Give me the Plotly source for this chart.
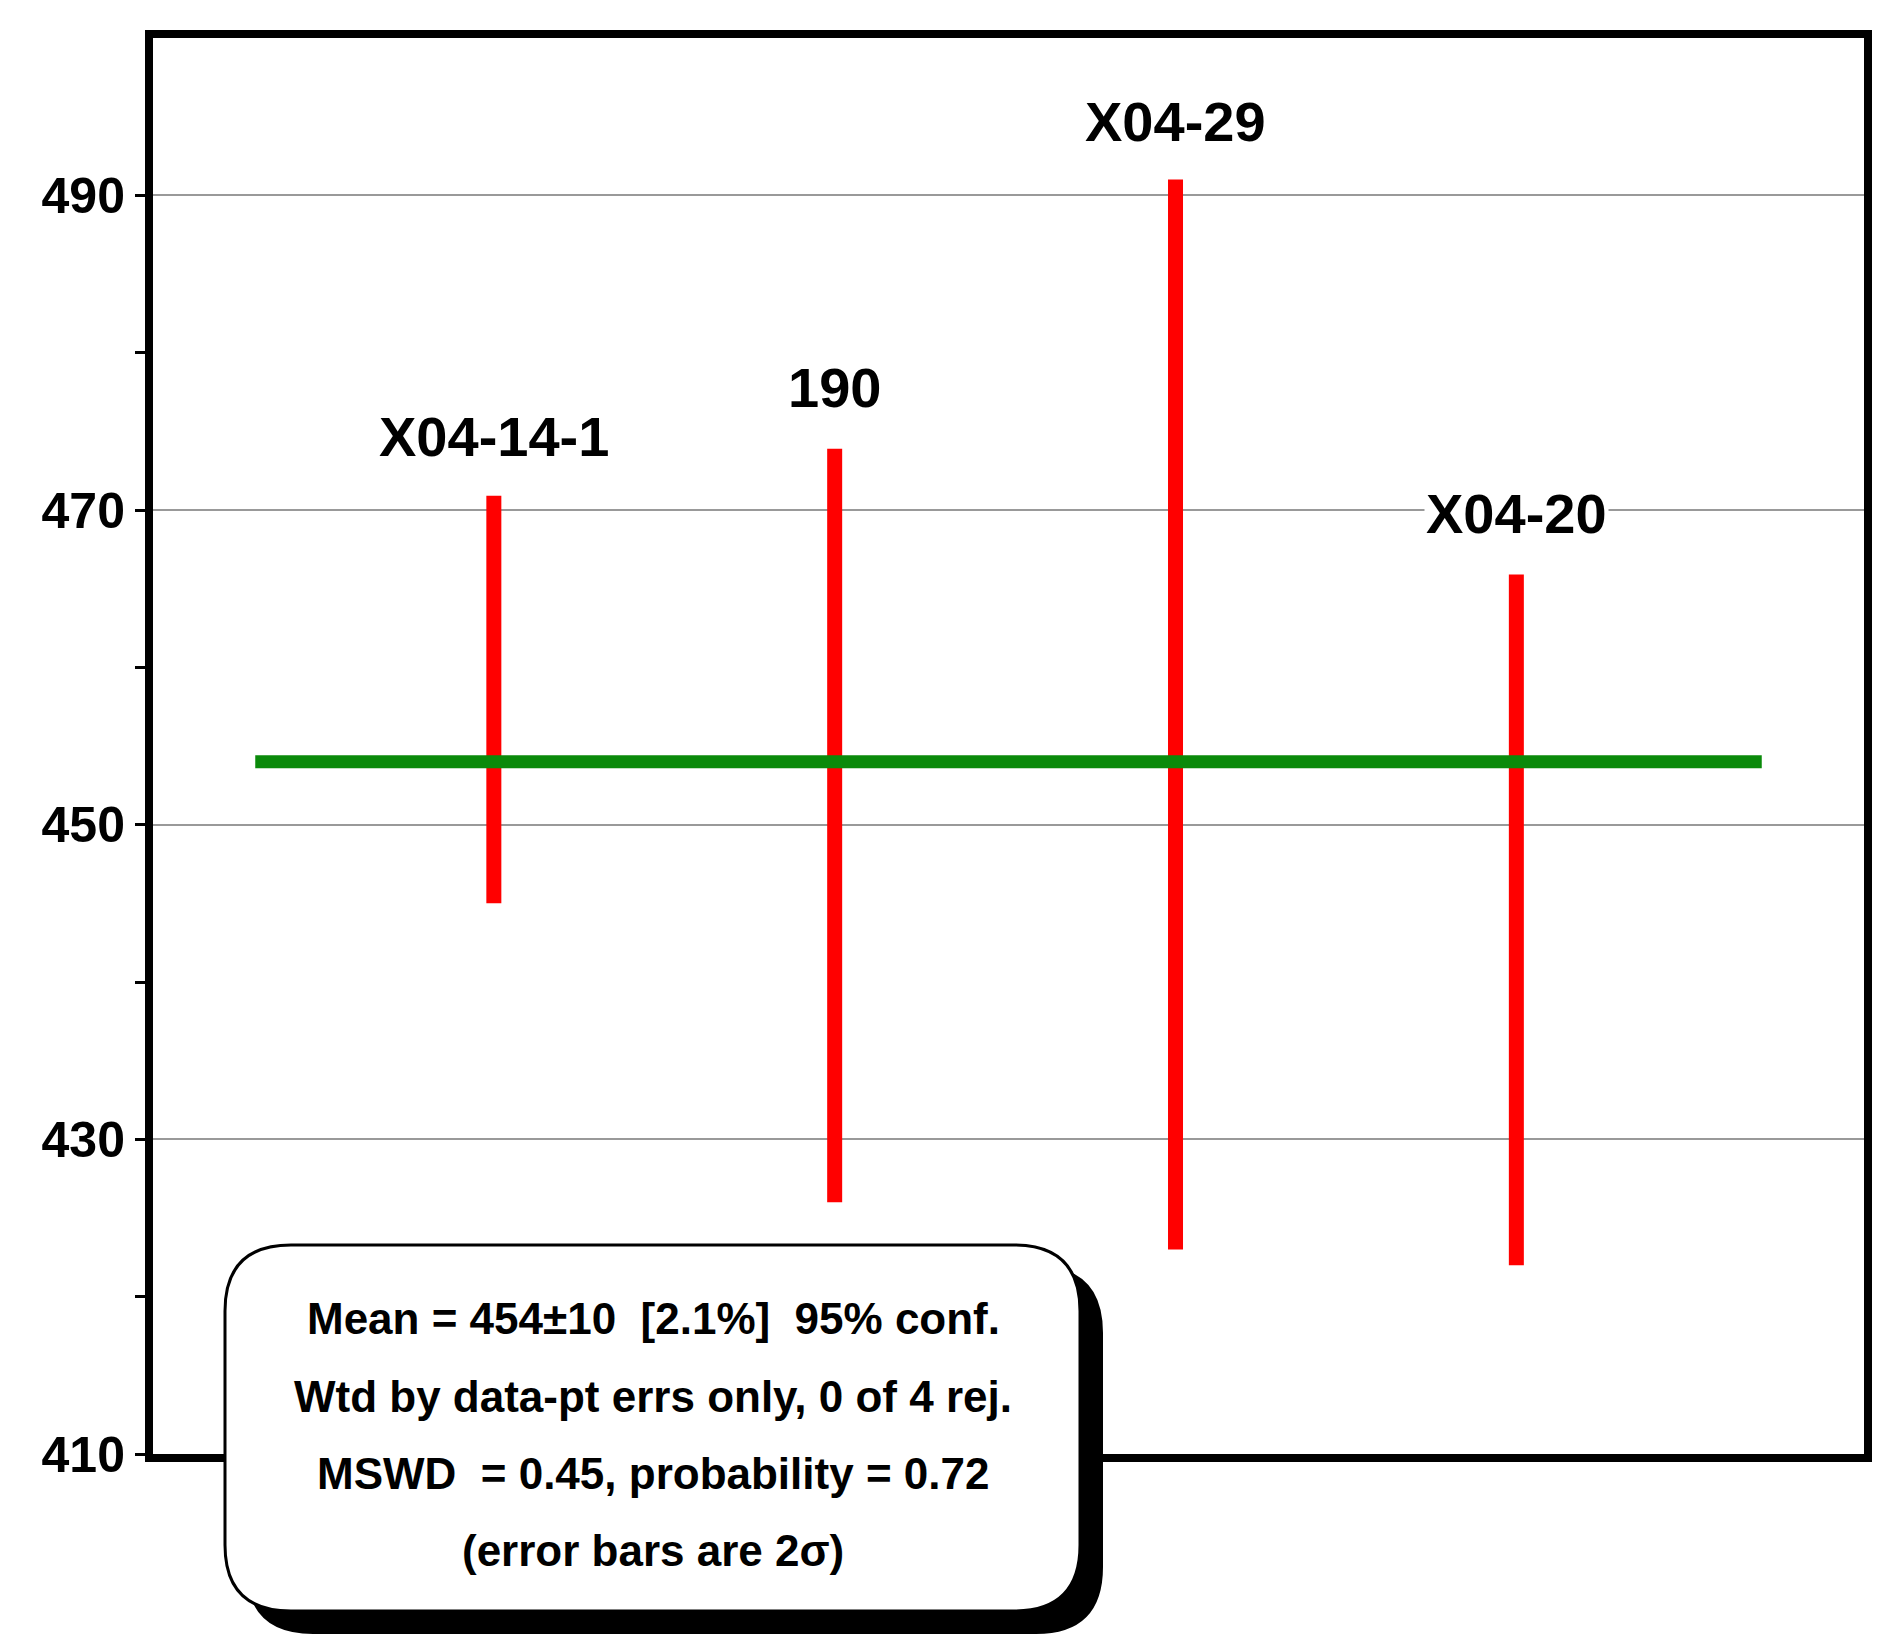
import plotly.graph_objects as go

labels = ["X04-14-1", "190", "X04-29", "X04-20"]
xpos = [1, 2, 3, 4]
lo = [445.0, 426.0, 423.0, 422.0]
hi = [470.9, 473.9, 491.0, 465.9]
label_y = [474.7, 477.8, 494.7, 469.8]
mean = 454
info = ["Mean = 454±10  [2.1%]  95% conf.",
        "Wtd by data-pt errs only, 0 of 4 rej.",
        "MSWD  = 0.45, probability = 0.72",
        "(error bars are 2σ)"]

W, H = 1880, 1640
L, R, T, B = 145, 24, 30, 194
PH = H - T - B
FONT = "Liberation Sans"

fig = go.Figure()
for x, a, b in zip(xpos, lo, hi):
    fig.add_trace(go.Scatter(x=[x, x], y=[a, b], mode="lines",
                             line=dict(color="#ff0000", width=15), showlegend=False))
fig.add_trace(go.Scatter(x=[0.3, 4.72], y=[mean, mean], mode="lines",
                         line=dict(color="#0a8a0a", width=13), showlegend=False))

for x, y, t in zip(xpos, label_y, labels):
    fig.add_annotation(x=x, y=y, text="<b>%s</b>" % t, showarrow=False,
                       xanchor="center", yanchor="middle",
                       font=dict(family=FONT, size=56, color="black"),
                       bgcolor="white" if t == "X04-20" else "rgba(0,0,0,0)")

def rr(x0, y0, x1, y1, r):
    return (f"M {x0+r} {y0} L {x1-r} {y0} Q {x1} {y0} {x1} {y0+r} L {x1} {y1-r} "
            f"Q {x1} {y1} {x1-r} {y1} L {x0+r} {y1} Q {x0} {y1} {x0} {y1-r} "
            f"L {x0} {y0+r} Q {x0} {y0} {x0+r} {y0} Z")

common = dict(type="path", xref="paper", yref="paper", xsizemode="pixel",
              ysizemode="pixel", xanchor=0, yanchor=0)
fig.add_shape(path=rr(94, -179, 949, 187, 66), fillcolor="black",
              line=dict(color="black", width=2), layer="above", **common)
fig.add_shape(path=rr(72, -157, 927, 209, 66), fillcolor="white",
              line=dict(color="black", width=3), layer="above", **common)

for py, t in zip([1310, 1388, 1465, 1542], info):
    fig.add_annotation(xref="paper", yref="paper", x=(645 - L) / (W - L - R),
                       y=(H - B - py) / PH, text="<b>%s</b>" % t, showarrow=False,
                       xanchor="center", yanchor="middle",
                       font=dict(family=FONT, size=44, color="black"))

fig.update_xaxes(range=[0, 5.02], showticklabels=False, showgrid=False,
                 zeroline=False, showline=True, mirror=True, linecolor="black",
                 linewidth=8, ticks="")
fig.update_yaxes(range=[410, 500], tickvals=[410, 430, 450, 470, 490],
                 ticktext=["<b>410</b>", "<b>430</b>", "<b>450</b>", "<b>470</b>", "<b>490</b>"],
                 showgrid=True, gridcolor="#999999", gridwidth=2, zeroline=False,
                 showline=True, mirror=True, linecolor="black", linewidth=8,
                 ticks="outside", ticklen=10, tickwidth=3, tickcolor="black",
                 minor=dict(tickvals=[420, 440, 460, 480], ticks="outside",
                            ticklen=10, tickwidth=3, tickcolor="black", showgrid=False),
                 tickfont=dict(family=FONT, size=50, color="black"))
fig.update_layout(width=W, height=H, margin=dict(l=L, r=R, t=T, b=B),
                  plot_bgcolor="white", paper_bgcolor="white")
fig.write_html("out.html")
